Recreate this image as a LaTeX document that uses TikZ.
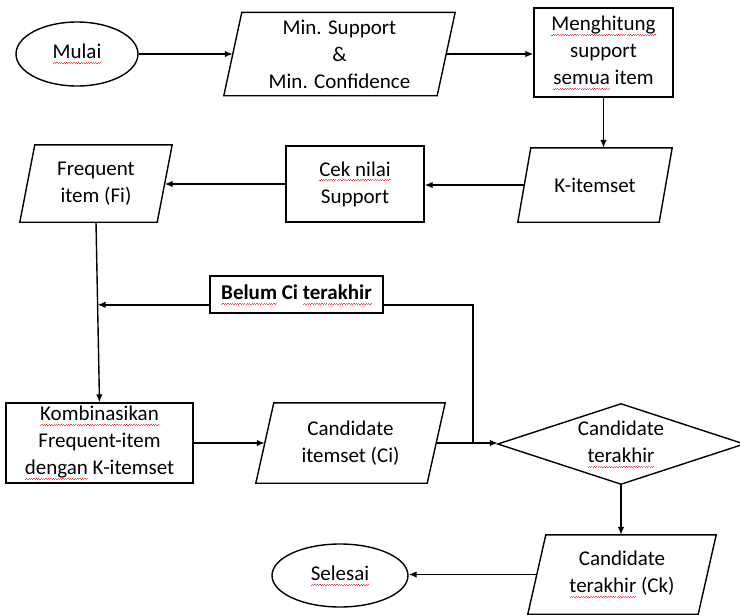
\documentclass[tikz,border=0pt]{standalone}
\usepackage{fontspec}
\setmainfont{Carlito}
\usetikzlibrary{shapes.geometric,arrows.meta,calc}

% red wavy underline, as a spell checker draws it
\newcommand\spellmark[1]{%
  \setbox0=\hbox{#1}\rlap{\copy0}%
  \textcolor{red!70}{\hbox to \wd0{\xleaders\hbox{\rule[-4.6pt]{1.2pt}{0.45pt}\rule[-3.7pt]{1.2pt}{0.45pt}}\hfill}}}

\newcommand\flowfont{\fontsize{21}{27}\selectfont}

% parallelogram drawn around a plain node: #1 node name, #2 half the slant
\newcommand\slantbox[2]{%
  \draw[outline] ([xshift=#2]#1.north west) -- ([xshift=#2]#1.north east)
    -- ([xshift=-#2]#1.south east) -- ([xshift=-#2]#1.south west) -- cycle;}

\tikzset{
  outline/.style={line width=1.4pt, draw=black, line join=miter},
  txt/.style={align=center, inner sep=0pt, font=\flowfont},
  procbox/.style={txt, outline, rectangle},
  term/.style={txt, outline, ellipse},
  datab/.style={txt, rectangle},
  flow/.style={line width=1.4pt, -{Latex[length=8pt,width=6.5pt]}},
  note/.style={txt, outline, rectangle, fill=white, font=\flowfont\bfseries}
}

\begin{document}
\begin{tikzpicture}[x=1pt, y=-1pt]
  \useasboundingbox (0,0) rectangle (740,614);

  % first row
  \node[term, minimum width=122, minimum height=64] (start) at (77,54) {\spellmark{Mulai}};
  \node[datab, minimum width=213, minimum height=83] (minp) at (339.5,54)
    {Min. Support\\\&\\Min. Confidence};
  \slantbox{minp}{9}
  \node[procbox, minimum width=139, minimum height=89] (count) at (603.5,52.5)
    {\spellmark{Menghitung}\\support\\\spellmark{semua} item};

  % second row
  \node[datab, minimum width=141, minimum height=74] (kset) at (595,185) {K-itemset};
  \slantbox{kset}{6.5}
  \node[procbox, minimum width=138, minimum height=76] (cek) at (355,184)
    {\spellmark{Cek nilai}\\Support};
  \node[datab, minimum width=137, minimum height=77] (freq) at (96,183.5)
    {Frequent\\item (Fi)};
  \slantbox{freq}{7.5}

  % third row
  \node[procbox, minimum width=187, minimum height=80] (komb) at (99.5,443)
    {\spellmark{Kombinasikan}\\Frequent-item\\\spellmark{dengan} K-itemset};
  \node[datab, minimum width=171, minimum height=80] (ci) at (350.5,443)
    {Candidate\\itemset (Ci)};
  \slantbox{ci}{9}
  \node[datab, minimum width=246, minimum height=80] (dec) at (621,444)
    {Candidate\\\spellmark{terakhir}};
  \draw[outline] (dec.west) -- (dec.north) -- (dec.east) -- (dec.south) -- cycle;

  % last row
  \node[datab, minimum width=170, minimum height=79] (ck) at (622,574.5)
    {Candidate\\\spellmark{terakhir} (Ck)};
  \slantbox{ck}{9}
  \node[term, minimum width=136, minimum height=63] (stop) at (340,575.5) {\spellmark{Selesai}};

  % connectors
  \draw[flow] (start.east) -- (start.east -| minp.west);
  \draw[flow] (minp.east) -- (minp.east -| count.west);
  \draw[flow] (count.south) -- (count.south |- kset.north);
  \draw[flow] (kset.west) -- (kset.west -| cek.east);
  \draw[flow] (cek.west) -- (cek.west -| freq.east);
  \draw[flow] (freq.south) -- (komb.north);
  \coordinate (join) at ($(freq.south)!0.4586!(komb.north)$);
  \draw[flow] (komb.east) -- (komb.east -| ci.west);
  \draw[flow] (ci.east) -- (ci.east -| dec.west);
  \coordinate (fork) at ($(ci.east)!0.6!(ci.east -| dec.west)$);
  \draw[flow] (fork) |- (join);
  \node[note, minimum width=173, minimum height=37] (loop) at (296.5,294.5)
    {\spellmark{Belum} Ci \spellmark{terakhir}};
  \draw[flow] (dec.south) -- (dec.south |- ck.north);
  \draw[flow] (ck.west) -- (ck.west -| stop.east);
\end{tikzpicture}
\end{document}
